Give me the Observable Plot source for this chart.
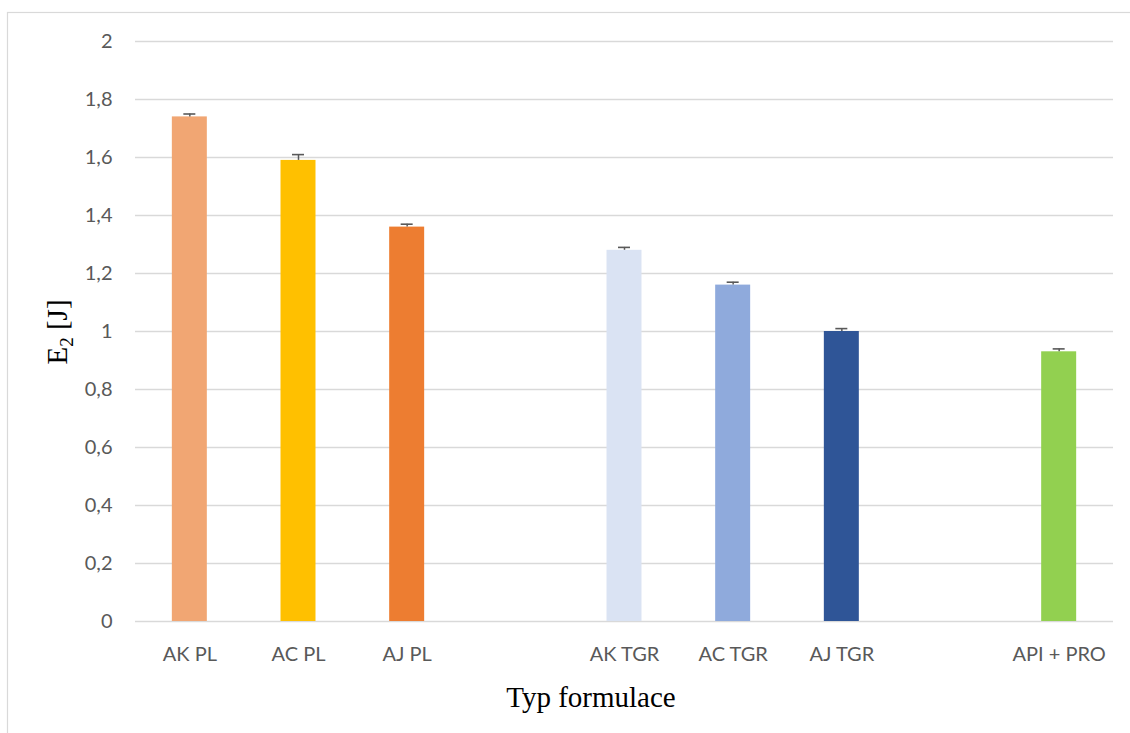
<!DOCTYPE html>
<html>
<head>
<meta charset="utf-8">
<script src="https://cdn.jsdelivr.net/npm/d3@7"></script>
<script src="https://cdn.jsdelivr.net/npm/@observablehq/plot@0.6"></script>
<style>
  html, body { margin: 0; padding: 0; background: #fff; }
  #chart { width: 1130px; height: 733px; }
</style>
</head>
<body>
<div id="chart"></div>
<script>
// ---- data ----
const slots = ["AK PL", "AC PL", "AJ PL", "gap1", "AK TGR", "AC TGR", "AJ TGR", "gap2", "API + PRO"];
const categories = ["AK PL", "AC PL", "AJ PL", "AK TGR", "AC TGR", "AJ TGR", "API + PRO"];
const values = [1.74, 1.59, 1.36, 1.28, 1.16, 1.00, 0.93];
const errors = [0.01, 0.02, 0.01, 0.01, 0.01, 0.01, 0.01];
const colors = ["#F1A673", "#FFC000", "#ED7D31", "#DAE3F3", "#8FAADC", "#2F5597", "#92D050"];
const yTicks = [0, 0.2, 0.4, 0.6, 0.8, 1, 1.2, 1.4, 1.6, 1.8, 2];
const xTitle = "Typ formulace";

const data = categories.map((c, i) => ({cat: c, value: values[i], err: errors[i], color: colors[i]}));

const W = 1130, H = 733;
const chart = Plot.plot({
  width: W,
  height: H,
  marginTop: 41,
  marginBottom: 112,
  marginLeft: 135,
  marginRight: 17,
  style: {fontFamily: "Lato, sans-serif", fontSize: "20px", color: "#595959", background: "#fff"},
  x: {domain: slots, paddingInner: 0.678, paddingOuter: 0.339, align: 0.5, round: false, label: null},
  y: {domain: [0, 2], label: null},
  color: {type: "identity"},
  marks: [
    Plot.gridY(yTicks, {stroke: "#d9d9d9", strokeOpacity: 1, strokeWidth: 1.4}),
    Plot.barY(data, {x: "cat", y: "value", fill: "color"}),
    Plot.ruleX(data, {x: "cat", y1: "value", y2: d => d.value + d.err, stroke: "#595959", strokeWidth: 1.5}),
    Plot.tickY(data, {x: "cat", y: d => d.value + d.err, stroke: "#595959", strokeWidth: 1.6, insetLeft: 11.5, insetRight: 11.5}),
    Plot.axisY({ticks: yTicks, tickSize: 0, tickPadding: 23, tickFormat: d => String(d).replace(".", ","), label: null}),
    Plot.axisX({tickSize: 0, tickPadding: 25, tickFormat: d => d.startsWith("gap") ? "" : d, label: null})
  ]
});

const svg = d3.select(chart);
// outer chart frame
svg.insert("rect", ":first-child")
  .attr("x", 7.5).attr("y", 12.5).attr("width", W).attr("height", H)
  .attr("fill", "none").attr("stroke", "#d9d9d9").attr("stroke-width", 1.2);

// x title
svg.append("text")
  .attr("x", 591).attr("y", 707)
  .attr("text-anchor", "middle")
  .attr("font-family", "'Liberation Serif', 'Times New Roman', serif")
  .attr("font-size", 29).attr("fill", "#000")
  .text(xTitle);

// y title with subscript
const yt = svg.append("text")
  .attr("transform", "translate(67,332) rotate(-90)")
  .attr("text-anchor", "middle")
  .attr("font-family", "'Liberation Serif', 'Times New Roman', serif")
  .attr("font-size", 29).attr("fill", "#000");
yt.append("tspan").text("E");
yt.append("tspan").attr("font-size", 19).attr("dy", 6).text("2");
yt.append("tspan").attr("dy", -6).text(" [J]");

document.getElementById("chart").appendChild(chart);
</script>
</body>
</html>
